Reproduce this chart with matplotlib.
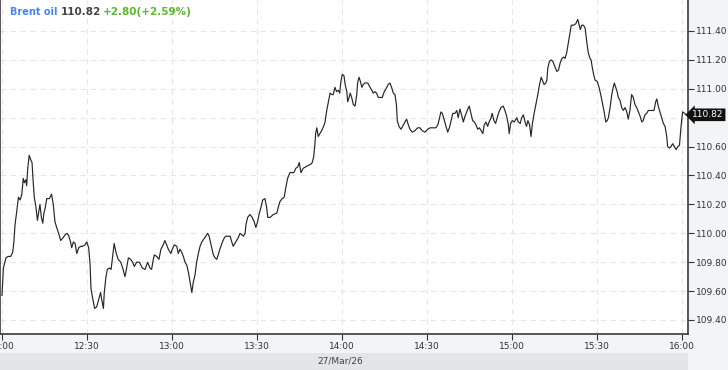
import matplotlib
matplotlib.use("Agg")
import matplotlib.pyplot as plt

# minutes after 12:00 and price
minutes = [
    0.0, 0.5, 1.4, 2.2, 3.1, 3.8, 4.2, 4.6, 5.2, 5.8, 6.4, 7.0, 7.5, 7.9, 8.4, 8.7, 9.1, 9.6, 10.1, 10.6,
    11.0, 11.4, 12.0, 12.5, 13.0, 13.4, 13.9, 14.4, 14.8, 15.3, 15.8, 16.7, 17.5, 18.1, 18.7, 19.3, 20.0, 20.7, 21.6, 22.3,
    23.0, 23.6, 24.2, 24.6, 25.2, 25.8, 26.4, 27.1, 27.8, 28.5, 29.3, 29.9, 30.6, 31.1, 31.4, 32.0, 32.7, 33.4, 34.1, 34.8,
    35.3, 35.8, 36.1, 36.7, 37.2, 37.9, 38.5, 39.1, 39.6, 40.2, 41.0, 41.9, 42.6, 43.4, 44.0, 44.6, 45.4, 46.1, 46.7, 47.5,
    48.5, 49.5, 50.5, 51.4, 52.2, 52.8, 53.4, 53.8, 54.6, 55.4, 56.1, 56.9, 57.5, 58.1, 58.7, 59.6, 60.1, 60.8, 61.7, 62.2,
    62.8, 63.4, 64.0, 64.6, 65.2, 65.8, 66.4, 67.0, 67.5, 68.1, 68.7, 69.3, 69.9, 70.5, 71.6, 72.6, 73.1, 73.8, 74.6, 75.2,
    75.8, 76.3, 76.9, 77.8, 78.5, 79.0, 79.9, 80.5, 81.1, 81.6, 82.2, 82.8, 83.4, 84.0, 84.6, 85.2, 85.8, 86.1, 86.7, 87.5,
    88.3, 89.0, 89.6, 90.2, 90.7, 91.4, 92.0, 92.8, 93.4, 93.8, 94.6, 95.8, 97.0, 97.5, 98.1, 98.9, 99.6, 100.1, 100.8, 101.6,
    102.2, 103.0, 103.7, 104.4, 104.9, 105.5, 106.3, 107.2, 108.1, 109.1, 109.5, 110.0, 110.4, 110.7, 111.1, 111.6, 112.2, 112.8, 113.5, 114.0,
    114.6, 115.2, 115.8, 116.4, 116.9, 117.5, 118.1, 118.7, 119.2, 119.6, 120.1, 120.7, 121.1, 121.7, 122.0, 122.5, 122.9, 123.4, 124.0, 124.6,
    125.2, 125.5, 126.0, 126.5, 127.0, 127.5, 128.1, 129.1, 129.9, 130.5, 131.0, 131.6, 132.2, 132.8, 133.8, 134.2, 134.9, 135.8, 136.3, 136.9,
    137.5, 138.1, 138.7, 139.2, 139.5, 140.1, 140.8, 141.4, 142.2, 142.8, 143.4, 144.0, 144.8, 145.7, 146.7, 147.5, 148.3, 149.3, 150.2, 151.1,
    152.2, 153.1, 153.8, 154.2, 154.9, 155.4, 156.1, 156.7, 157.3, 157.9, 158.5, 159.1, 159.9, 160.5, 161.0, 161.6, 162.2, 162.8, 163.4, 164.4,
    164.9, 165.5, 166.1, 166.7, 167.3, 167.9, 168.5, 169.1, 169.7, 170.2, 170.8, 171.4, 171.9, 172.6, 173.0, 173.6, 174.2, 174.9, 175.4, 176.1,
    176.9, 177.5, 178.1, 178.7, 179.0, 179.5, 180.1, 180.8, 181.7, 182.2, 182.9, 183.4, 184.0, 184.6, 185.1, 185.6, 186.2, 186.7, 187.2, 187.8,
    188.4, 189.1, 189.7, 190.3, 190.7, 191.3, 191.9, 192.3, 192.6, 193.2, 193.8, 194.4, 195.2, 195.8, 196.4, 197.0, 197.6, 198.2, 198.7, 199.3,
    199.9, 200.5, 200.9, 201.7, 202.5, 203.2, 203.7, 204.1, 204.6, 205.2, 205.8, 206.4, 206.9, 207.5, 207.9, 208.3, 208.8, 209.3, 210.1, 210.7,
    211.3, 211.9, 212.5, 213.1, 213.6, 214.0, 214.6, 215.2, 215.7, 216.1, 216.6, 217.1, 217.5, 218.1, 218.7, 219.3, 219.9, 220.5, 221.0, 221.6,
    222.2, 222.8, 223.4, 224.0, 224.6, 225.2, 225.8, 226.3, 226.9, 227.5, 228.1, 229.3, 230.1, 230.7, 231.1, 231.6, 232.2, 232.8, 233.4, 234.0,
    234.6, 234.9, 235.5, 236.1, 236.7, 237.3, 237.9, 238.5, 239.1, 239.6, 240.2, 240.9, 241.4,
]
prices = [
    109.57, 109.76, 109.83, 109.84, 109.84, 109.87, 109.94, 110.06, 110.15, 110.25, 110.23, 110.27, 110.38, 110.35, 110.37, 110.33, 110.45, 110.54, 110.51, 110.49,
    110.36, 110.25, 110.18, 110.09, 110.15, 110.20, 110.11, 110.07, 110.14, 110.18, 110.24, 110.24, 110.27, 110.20, 110.08, 110.04, 110.00, 109.95, 109.97, 109.99,
    110.00, 109.98, 109.94, 109.90, 109.94, 109.93, 109.86, 109.90, 109.91, 109.91, 109.92, 109.94, 109.90, 109.78, 109.62, 109.55, 109.48, 109.49, 109.54, 109.59,
    109.53, 109.48, 109.59, 109.70, 109.75, 109.76, 109.75, 109.85, 109.93, 109.87, 109.82, 109.80, 109.76, 109.70, 109.76, 109.83, 109.82, 109.80, 109.77, 109.80,
    109.80, 109.76, 109.75, 109.80, 109.76, 109.75, 109.82, 109.85, 109.84, 109.82, 109.89, 109.92, 109.95, 109.92, 109.89, 109.86, 109.89, 109.92, 109.91, 109.86,
    109.89, 109.87, 109.84, 109.80, 109.78, 109.73, 109.66, 109.59, 109.66, 109.71, 109.80, 109.86, 109.91, 109.94, 109.97, 110.00, 109.98, 109.92, 109.85, 109.83,
    109.82, 109.85, 109.89, 109.94, 109.97, 109.98, 109.98, 109.98, 109.94, 109.91, 109.93, 109.95, 109.97, 110.00, 109.99, 109.98, 110.00, 110.06, 110.11, 110.13,
    110.11, 110.08, 110.04, 110.08, 110.13, 110.18, 110.23, 110.24, 110.18, 110.11, 110.11, 110.13, 110.14, 110.18, 110.22, 110.24, 110.25, 110.31, 110.38, 110.42,
    110.42, 110.42, 110.45, 110.46, 110.49, 110.42, 110.45, 110.46, 110.47, 110.48, 110.49, 110.53, 110.61, 110.69, 110.73, 110.67, 110.69, 110.71, 110.74, 110.77,
    110.85, 110.91, 110.97, 110.96, 110.96, 111.01, 110.98, 110.99, 110.97, 111.05, 111.10, 111.09, 111.03, 110.98, 110.91, 110.94, 110.97, 110.94, 110.89, 110.88,
    110.96, 111.04, 111.08, 111.05, 111.01, 111.03, 111.04, 111.04, 111.01, 110.99, 110.97, 110.98, 110.97, 110.94, 110.94, 110.94, 110.98, 111.01, 111.03, 111.04,
    111.01, 110.97, 110.96, 110.89, 110.78, 110.74, 110.72, 110.74, 110.77, 110.79, 110.75, 110.72, 110.70, 110.71, 110.73, 110.73, 110.71, 110.70, 110.72, 110.73,
    110.73, 110.73, 110.75, 110.78, 110.84, 110.83, 110.78, 110.74, 110.70, 110.73, 110.78, 110.83, 110.83, 110.85, 110.80, 110.86, 110.82, 110.77, 110.81, 110.86,
    110.88, 110.83, 110.78, 110.77, 110.75, 110.72, 110.73, 110.71, 110.69, 110.75, 110.77, 110.74, 110.77, 110.80, 110.83, 110.78, 110.76, 110.81, 110.84, 110.87,
    110.88, 110.85, 110.81, 110.75, 110.69, 110.76, 110.78, 110.77, 110.80, 110.77, 110.76, 110.80, 110.82, 110.77, 110.74, 110.78, 110.75, 110.67, 110.76, 110.83,
    110.89, 110.96, 111.03, 111.08, 111.06, 111.03, 111.04, 111.06, 111.14, 111.19, 111.20, 111.19, 111.15, 111.12, 111.13, 111.18, 111.21, 111.22, 111.21, 111.25,
    111.32, 111.39, 111.44, 111.44, 111.45, 111.48, 111.44, 111.41, 111.44, 111.44, 111.42, 111.32, 111.25, 111.21, 111.20, 111.15, 111.10, 111.06, 111.05, 111.01,
    110.96, 110.90, 110.84, 110.77, 110.78, 110.80, 110.87, 110.96, 111.01, 111.04, 111.01, 110.98, 110.94, 110.92, 110.87, 110.85, 110.87, 110.84, 110.79, 110.85,
    110.96, 110.94, 110.89, 110.87, 110.84, 110.81, 110.77, 110.78, 110.82, 110.83, 110.85, 110.85, 110.85, 110.91, 110.93, 110.88, 110.84, 110.80, 110.76, 110.74,
    110.67, 110.60, 110.59, 110.60, 110.62, 110.60, 110.58, 110.60, 110.61, 110.73, 110.84, 110.83, 110.82,
]

tick_minutes = [0, 30, 60, 90, 120, 150, 180, 210, 240]
tick_labels = ["12:00", "12:30", "13:00", "13:30", "14:00", "14:30", "15:00", "15:30", "16:00"]
price_ticks = [109.40, 109.60, 109.80, 110.00, 110.20, 110.40, 110.60, 110.80, 111.00, 111.20, 111.40]
last_price = 110.82
change = 2.80
change_pct = 2.59
date_label = "27/Mar/26"

fig = plt.figure(figsize=(7.28, 3.70), dpi=100, facecolor="#f3f4f6")
ax = fig.add_axes([0.0, 1 - 334 / 370, 688 / 728, 334 / 370])
ax.set_facecolor("white")

# bottom date band
fig.patches.append(plt.Rectangle((0, 0), 688 / 728, 17 / 370, transform=fig.transFigure,
                                 facecolor="#e4e5e8", edgecolor="none", zorder=0))
fig.text(340 / 728, 9 / 370, date_label, ha="center", va="center", fontsize=6.5, color="#444444")

ax.plot(minutes, prices, color="#262626", linewidth=0.85)

ax.set_xlim(-0.7, 242.1)
ax.set_ylim(109.303, 111.6145)
ax.set_xticks(tick_minutes)
ax.set_xticklabels(tick_labels)
ax.set_yticks(price_ticks)
# the 110.80 label sits under the last-price tag, as in the source chart
ax.set_yticklabels(["" if abs(v - 110.80) < 1e-6 else "%.2f" % v for v in price_ticks])
ax.yaxis.tick_right()

ax.grid(True, color="#e6e6e6", linestyle=(0, (5, 4)), linewidth=0.8)
ax.tick_params(axis="both", colors="#333333", labelsize=6.5, length=4, width=0.8)
ax.tick_params(axis="y", pad=1.5)
ax.tick_params(axis="x", pad=2)

for side in ["left", "right", "bottom"]:
    ax.spines[side].set_color("#3a3a3a")
    ax.spines[side].set_linewidth(1.2)
ax.spines["top"].set_visible(False)

# last price marker
ax.text(1.006, last_price, "%.2f" % last_price, transform=ax.get_yaxis_transform(),
        ha="left", va="center", fontsize=6.5, color="white", zorder=5, clip_on=False,
        bbox=dict(boxstyle="larrow,pad=0.2", facecolor="#111111", edgecolor="none"))

# header
fig.text(10 / 728, 1 - 12 / 370, "Brent oil", ha="left", va="center", fontsize=7,
         fontweight="bold", color="#4a86e8")
fig.text(61 / 728, 1 - 12 / 370, "%.2f" % last_price, ha="left", va="center", fontsize=7.5,
         fontweight="bold", color="#444444")
fig.text(103 / 728, 1 - 12 / 370, "+%.2f(+%.2f%%)" % (change, change_pct), ha="left", va="center",
         fontsize=7.5, fontweight="bold", color="#5cb82c")

fig.savefig("out.png", dpi=100, facecolor=fig.get_facecolor())
